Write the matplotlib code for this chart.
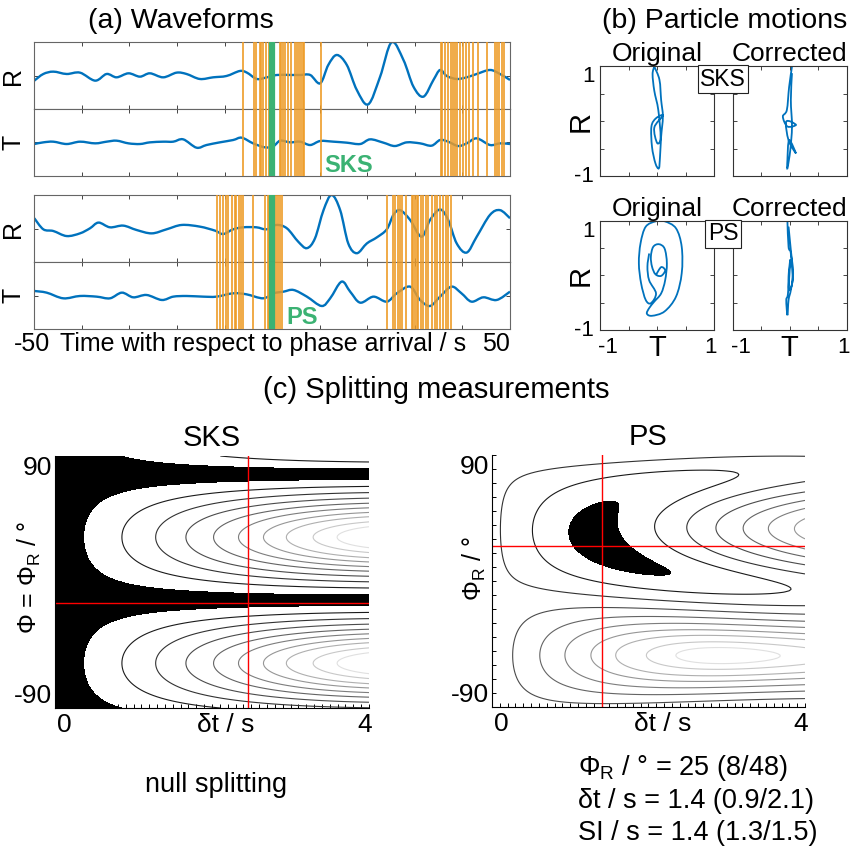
import numpy as np
import matplotlib
matplotlib.use("Agg")
from matplotlib import pyplot as plt
from matplotlib.path import Path
from matplotlib.patches import PathPatch

plt.rcParams['font.family'] = ['Liberation Sans', 'DejaVu Sans']
plt.rcParams['mathtext.fontset'] = 'custom'
plt.rcParams['mathtext.rm'] = 'Liberation Sans'
plt.rcParams['mathtext.it'] = 'Liberation Sans:italic'

BLUE = '#0072BD'
ORANGE = '#EE9C28'
GREEN = '#3BB273'
NARROW = ['Liberation Sans Narrow', 'DejaVu Sans Condensed', 'Liberation Sans']

# ---- (a) waveforms, amplitudes normalised to [-1, 1] ----
sks_r_t = [-50, -48.1, -46.0, -43.2, -40.4, -37.2, -34.8, -32.7, -30.2, -27.8,
           -25.7, -22.9, -20.1, -18.0, -15.2, -12.4, -9.6, -6.8, -5.3, -3.2,
           -1.1, 1.0, 3.8, 5.9, 8.0, 10.1, 11.8, 13.6, 15.7, 17.8,
           20.2, 22.7, 25.1, 27.6, 29.7, 31.8, 33.9, 35.3, 36.7, 38.8,
           40.9, 43.0, 45.8, 47.9, 50.0]
sks_r_a = [-0.15, 0.05, 0.12, 0.05, 0.09, -0.15, 0.05, -0.05, 0.07, -0.03,
           0.07, -0.05, 0.09, 0.05, -0.10, -0.05, -0.01, 0.14, 0.09, -0.10,
           -0.05, 0.02, 0.02, 0.02, 0.02, -0.23, 0.32, 0.62, 0.32, -0.43,
           -0.86, -0.03, 1.0, 0.47, -0.33, -0.63, -0.13, 0.17, -0.01, -0.10,
           -0.05, 0.05, 0.17, 0.05, -0.13]
sks_t_t = [-50, -48.1, -46.0, -43.2, -40.4, -37.2, -34.8, -32.7, -30.2, -27.8,
           -25.7, -22.9, -20.8, -18.7, -15.9, -13.8, -11.0, -8.2, -6.4, -4.0,
           -1.5, 0.3, 1.7, 3.8, 5.9, 8.0, 10.1, 12.9, 15.7, 18.5,
           20.6, 23.4, 25.8, 28.3, 31.1, 33.5, 35.3, 37.0, 39.1, 40.9,
           43.0, 45.8, 47.9, 50.0]
sks_t_a = [-0.05, 0, 0.02, -0.05, 0.02, -0.03, 0.02, 0.05, -0.03, -0.05,
           0, 0.02, 0.02, 0.09, -0.16, -0.08, 0, 0.07, 0.14, -0.03,
           -0.15, -0.11, 0.05, 0, 0.02, -0.08, 0.04, 0.02, -0.01, -0.05,
           0.09, -0.01, -0.11, 0, -0.03, -0.10, 0.07, 0.02, -0.11, -0.03,
           0.12, -0.08, -0.03, -0.05]
ps_r_t = [-50, -48.1, -46.0, -43.2, -40.4, -38.3, -36.5, -34.1, -31.3, -28.5,
          -25.3, -22.2, -19.0, -15.2, -12.0, -10.3, -8.2, -6.1, -3.3, -1.2,
          0.9, 3.1, 5.5, 7.3, 9.0, 10.8, 12.5, 14.3, 16.0, 17.8,
          19.9, 22.0, 24.1, 25.5, 26.9, 29.0, 31.4, 33.2, 35.3, 37.0,
          38.8, 40.9, 43.0, 45.8, 47.9, 50.0]
ps_r_a = [0.31, -0.02, -0.07, -0.22, -0.14, 0.01, 0.18, 0.04, 0.09, -0.04,
          -0.14, -0.02, 0.11, 0.06, -0.06, -0.16, -0.02, 0.04, 0.04, -0.02,
          0.11, 0.01, -0.39, -0.58, -0.29, 0.55, 1.0, 0.55, -0.44, -0.73,
          -0.44, -0.26, -0.02, 0.41, 0.55, 0.26, -0.24, 0.26, 0.57, 0.26,
          -0.44, -0.71, -0.24, 0.41, 0.55, 0.31]
ps_t_t = [-50, -47.4, -43.9, -40.4, -36.9, -34.1, -31.6, -29.2, -26.4, -23.2,
          -20.8, -18.0, -14.5, -11.7, -8.2, -5.4, -1.9, 0.3, 2.4, 4.5,
          7.3, 10.4, 12.2, 14.6, 16.4, 18.5, 21.3, 24.1, 26.2, 29.0,
          31.1, 33.2, 35.3, 37.7, 39.8, 41.9, 44.4, 47.2, 50.0]
ps_t_a = [0.14, 0.09, -0.08, -0.01, -0.03, -0.08, 0.09, -0.05, 0.02, -0.13,
          -0.03, -0.01, -0.03, -0.03, 0.07, 0.04, -0.08, 0.07, 0.12, 0.17,
          -0.03, -0.31, -0.08, 0.42, 0.12, -0.21, -0.03, -0.18, 0.07, 0.27,
          -0.13, -0.31, -0.03, 0.27, 0.07, -0.18, -0.05, -0.13, 0.12]

# analysis window limits (s) and phase arrival
sks_windows = [-6.1, -3.9, -3.3, -2.6, -2.3, -1.9, -1.2, -0.7, 1.6, 1.9, 2.3, 2.8,
               3.4, 4.0, 4.7, 5.3, 5.6, 6.1, 6.5, 6.8, 10.2,
               35.4, 35.8, 36.3, 37.0, 37.5, 38.1, 38.5, 38.9, 39.5, 40.2, 40.7,
               41.4, 42.3, 43.3, 45.1, 46.8, 47.2, 47.7, 48.3, 48.7]
ps_windows = [-11.5, -11.0, -10.4, -9.7, -9.2, -8.5, -7.8, -7.5, -6.9, -6.5, -6.1,
              -4.0, -1.4, -0.9, -0.6, 0.8, 1.3, 1.7, 2.1,
              24.1, 25.5, 25.9, 26.4, 26.9, 27.4, 28.1, 29.3, 29.7, 30.0, 30.4,
              30.7, 31.2, 31.8, 32.3, 32.8, 33.5, 34.2, 34.7, 35.3, 36.0, 36.6,
              37.0, 37.5]
arrival = 0.0

# ---- (b) particle motions (T, R) ----
sks_orig_T = [-0.05, 0.04, 0.07, 0.10, 0.07, 0.05, 0.03, -0.03, -0.09, -0.10,
              -0.02, 0.10, -0.05, 0.00, 0.06, 0.02, -0.05, -0.08, -0.05]
sks_orig_R = [0.99, 0.75, 0.38, 0.08, -0.28, -0.65, -0.86, -0.77, -0.47, -0.10,
              0.05, 0.10, -0.12, -0.40, -0.30, 0.20, 0.55, 0.85, 0.99]
sks_corr_T = [0.04, -0.01, -0.05, -0.12, -0.04, 0.11, -0.06, -0.02, 0.11, -0.01,
              -0.04, -0.04, 0.01, 0.04, 0.02, 0.04]
sks_corr_R = [0.99, 0.62, 0.20, 0.08, -0.10, -0.07, -0.01, -0.35, -0.59, -0.35,
              -0.71, -0.86, -0.53, -0.10, 0.38, 0.87]
ps_orig_T = [-0.02, 0.07, 0.14, 0.07, -0.03, -0.09, -0.11, -0.07, 0.03, 0.13,
             0.17, 0.14, 0.07, -0.05, -0.14, -0.18, -0.09, 0.13, 0.33, 0.43,
             0.43, 0.33, 0.13, -0.02, -0.20, -0.29, -0.32, -0.28, -0.20, -0.11,
             -0.02, -0.14, -0.17, -0.14]
ps_orig_R = [0.01, 0.15, 0.09, -0.01, 0.02, 0.16, 0.34, 0.52, 0.57, 0.49,
             0.22, -0.09, -0.33, -0.48, -0.60, -0.70, -0.74, -0.66, -0.39, 0.04,
             0.52, 0.86, 0.99, 0.99, 0.89, 0.59, 0.22, -0.15, -0.45, -0.51,
             -0.33, -0.09, 0.16, 0.40]
ps_corr_T = [-0.04, -0.02, 0.02, 0.05, -0.01, -0.02, 0.01, -0.03, -0.06, -0.04,
             -0.02, 0.02, 0.06, 0.02, -0.02]
ps_corr_R = [0.99, 0.52, 0.40, -0.09, -0.27, -0.02, 0.28, -0.33, -0.45, -0.73,
             -0.45, -0.27, 0.04, 0.46, 0.89]

# ---- (c) splitting measurements ----
# synthetic wavelet parameters used for the minimum-eigenvalue surfaces
sks_params = dict(pol=-13.0, fast=0.0, lag=0.0, period=18.0, width=20.0)
ps_params = dict(pol=-10.0, fast=25.0, lag=1.4, period=16.0, width=5.5)
sks_best = (2.46, -15.0)  # (dt, phi) red cross
ps_best = (1.4, 25.0)
sks_levels = [0.054, 0.121, 0.202, 0.292, 0.385, 0.488, 0.59, 0.717, 0.836]
ps_levels = [0.054, 0.121, 0.202, 0.292, 0.385, 0.488, 0.59, 0.717, 0.836]
sks_conf = 0.01
ps_conf = 0.01
ps_result = ['Φ$_\\mathrm{R}$ / ° = 25 (8/48)',
             'δt / s = 1.4 (0.9/2.1)',
             'SI / s = 1.4 (1.3/1.5)']

phis = np.arange(-90, 90.5, 1.0)
dts = np.arange(0, 4.001, 0.05)


def min_eig_surface(pol, fast, lag, period, width):
    step = 0.05
    t = np.arange(-80, 80, step)
    w = np.exp(-(t / width) ** 2) * np.cos(2 * np.pi * t / period)
    p, f = np.radians(pol), np.radians(fast)
    r0, t0 = w * np.cos(p), w * np.sin(p)
    fa = r0 * np.cos(f) + t0 * np.sin(f)
    sl = np.roll(-r0 * np.sin(f) + t0 * np.cos(f), int(round(lag / step)))
    rr = fa * np.cos(f) - sl * np.sin(f)
    tt = fa * np.sin(f) + sl * np.cos(f)
    ph = np.radians(phis)[:, None]
    fa2 = rr * np.cos(ph) + tt * np.sin(ph)
    sl2 = -rr * np.sin(ph) + tt * np.cos(ph)
    a = (fa2 ** 2).sum(1)
    E = np.zeros((len(phis), len(dts)))
    for j, d in enumerate(dts):
        s = np.roll(sl2, -int(round(d / step)), axis=1)
        c = (s ** 2).sum(1)
        b = (fa2 * s).sum(1)
        E[:, j] = (a + c) / 2 - np.sqrt(((a - c) / 2) ** 2 + b ** 2)
    return E / E.max()


def smooth_path(x, y):
    # Catmull-Rom curve through the read points, drawn as cubic Beziers
    pts = np.column_stack([x, y]).astype(float)
    n = len(pts)
    verts, codes = [pts[0]], [Path.MOVETO]
    for i in range(n - 1):
        p0, p1 = pts[max(i - 1, 0)], pts[i]
        p2, p3 = pts[i + 1], pts[min(i + 2, n - 1)]
        verts += [p1 + (p2 - p0) / 6, p2 - (p3 - p1) / 6, p2]
        codes += [Path.CURVE4] * 3
    return Path(verts, codes)


W, H = 860, 849
fig = plt.figure(figsize=(W / 100, H / 100), dpi=100)


def box(x0, y0, x1, y1):
    return [x0 / W, 1 - y1 / H, (x1 - x0) / W, (y1 - y0) / H]


def wave_axes(rect, t, a, windows, label):
    ax = fig.add_axes(rect)
    ax.add_patch(PathPatch(smooth_path(t, a), fill=False, ec=BLUE, lw=1.7, zorder=2))
    for x in windows:
        ax.axvline(x, color=ORANGE, lw=1.2, zorder=3)
    ax.axvline(arrival, color=GREEN, lw=4.5, zorder=4)
    ax.set_xlim(-50, 50)
    ax.set_ylim(-1, 1)
    ax.set_xticks(np.arange(-50, 51, 10))
    ax.set_yticks([0])
    ax.set_yticklabels([])
    ax.set_xticklabels([])
    ax.tick_params(direction='in', top=True, right=True, length=3,
                   color='#444', width=0.7)
    for s in ax.spines.values():
        s.set_color('#666')
        s.set_linewidth(0.8)
    ax.set_ylabel(label, fontsize=18, labelpad=3)
    return ax


wave_axes(box(34.3, 42.3, 510, 109), sks_r_t, sks_r_a, sks_windows, 'R')
ax = wave_axes(box(34.3, 109, 510, 175.7), sks_t_t, sks_t_a, sks_windows, 'T')
ax.text(11.0, -0.68, 'SKS', color=GREEN, fontsize=17, fontweight='bold',
        family=NARROW, va='center')
wave_axes(box(34.3, 195, 510, 262.3), ps_r_t, ps_r_a, ps_windows, 'R')
ax = wave_axes(box(34.3, 262.3, 510, 329), ps_t_t, ps_t_a, ps_windows, 'T')
ax.text(2.9, -0.67, 'PS', color=GREEN, fontsize=17, fontweight='bold',
        family=NARROW, va='center')
ax.text(-50.4, -1.1, '-50', fontsize=18, ha='center', va='top')
ax.text(50, -1.1, '50', fontsize=18, ha='right', va='top')
ax.text(-2.0, -1.1, 'Time with respect to phase arrival / s', fontsize=18,
        ha='center', va='top')
fig.text(181 / W, 1 - 21 / H, '(a) Waveforms', fontsize=20.5, ha='center', va='center')


# ---- particle motions ----
def pm_axes(rect, T, R, title, ylab, xlab):
    ax = fig.add_axes(rect)
    ax.add_patch(PathPatch(smooth_path(T, R), fill=False, ec=BLUE, lw=1.3))
    ax.set_xlim(-1, 1)
    ax.set_ylim(-1, 1)
    ticks = [-1, -0.5, 0, 0.5, 1]
    ax.set_xticks(ticks)
    ax.set_yticks(ticks)
    ax.set_xticklabels([])
    ax.set_yticklabels([])
    ax.tick_params(direction='in', top=True, right=True, length=3,
                   color='#444', width=0.7)
    for s in ax.spines.values():
        s.set_color('#333')
        s.set_linewidth(0.8)
    ax.set_title(title, fontsize=19, pad=3)
    tr = ax.transAxes
    if ylab:
        ax.text(-0.05, 1.0, '1', fontsize=16, ha='right', va='top', transform=tr)
        ax.text(-0.05, 0.0, '-1', fontsize=16, ha='right', va='center', transform=tr)
        ax.text(-0.05, 0.5, 'R', fontsize=21, ha='right', va='center',
                rotation=90, transform=tr)
    if xlab:
        ax.text(0.07, -0.06, '-1', fontsize=16, ha='center', va='top', transform=tr)
        ax.text(0.97, -0.06, '1', fontsize=16, ha='center', va='top', transform=tr)
        ax.text(0.5, -0.04, 'T', fontsize=21, ha='center', va='top', transform=tr)
    return ax


pm_axes(box(600, 66, 714.3, 176), sks_orig_T, sks_orig_R, 'Original', True, False)
pm_axes(box(732.7, 66, 846.7, 176), sks_corr_T, sks_corr_R, 'Corrected', False, False)
pm_axes(box(600, 220.7, 714.3, 330), ps_orig_T, ps_orig_R, 'Original', True, True)
pm_axes(box(732.7, 220.7, 846.7, 330), ps_corr_T, ps_corr_R, 'Corrected', False, True)
for name, yc in [('SKS', 79), ('PS', 234)]:
    fig.text(723 / W, 1 - yc / H, name, fontsize=16.5, ha='center', va='center',
             bbox=dict(boxstyle='square,pad=0.1', fc='white', ec='#222', lw=0.8))
fig.text(725 / W, 1 - 21 / H, '(b) Particle motions', fontsize=20.5,
         ha='center', va='center')


# ---- splitting surfaces ----
def surface_axes(rect, params, levels, conf, best, title, ylabel, label_xy):
    E = min_eig_surface(**params)
    ax = fig.add_axes(rect)
    ax.contourf(dts, phis, E, levels=[-1, conf], colors=['black'])
    greys = [str(g) for g in np.linspace(0.1, 0.88, len(levels))]
    ax.contour(dts, phis, E, levels=levels, colors=greys, linewidths=0.8)
    ax.axvline(best[0], color='red', lw=1.0)
    ax.axhline(best[1], color='red', lw=1.0)
    ax.set_xlim(0, 4)
    ax.set_ylim(-90, 90)
    ax.set_xticks(np.arange(0, 4.01, 0.1))
    ax.set_yticks(np.arange(-90, 91, 10))
    ax.set_xticklabels([])
    ax.set_yticklabels([])
    ax.tick_params(direction='in', length=3, width=0.7)
    ax.spines['top'].set_visible(False)
    ax.spines['right'].set_visible(False)
    ax.set_title(title, fontsize=21, pad=7)
    ax.set_ylabel(ylabel, fontsize=18)
    ax.yaxis.set_label_coords(*label_xy)
    tr = ax.transAxes
    ax.text(-0.01, 1.0, '90', fontsize=19, ha='right', va='top', transform=tr)
    ax.text(-0.01, 0.0, '-90', fontsize=19, ha='right', va='bottom', transform=tr)
    for x, s in [(0.03, '0'), (0.545, 'δt / s'), (0.985, '4')]:
        ax.text(x, -0.02, s, fontsize=19, ha='center', va='top', transform=tr)
    return ax


surface_axes(box(55, 456, 369, 708), sks_params, sks_levels, sks_conf, sks_best,
             'SKS', 'Φ = Φ$_\\mathrm{R}$ / °', (-0.038, 0.52))
surface_axes(box(492, 455, 805, 707), ps_params, ps_levels, ps_conf, ps_best,
             'PS', 'Φ$_\\mathrm{R}$ / °', (-0.013, 0.55))
fig.text(436 / W, 1 - 390 / H, '(c) Splitting measurements', fontsize=21,
         ha='center', va='center')
fig.text(216 / W, 1 - 785 / H, 'null splitting', fontsize=19.5, ha='center', va='center')
for i, line in enumerate(ps_result):
    fig.text(578 / W, 1 - (768 + 32.5 * i) / H, line, fontsize=19.5,
             ha='left', va='center')

fig.savefig('out.png', dpi=100)
